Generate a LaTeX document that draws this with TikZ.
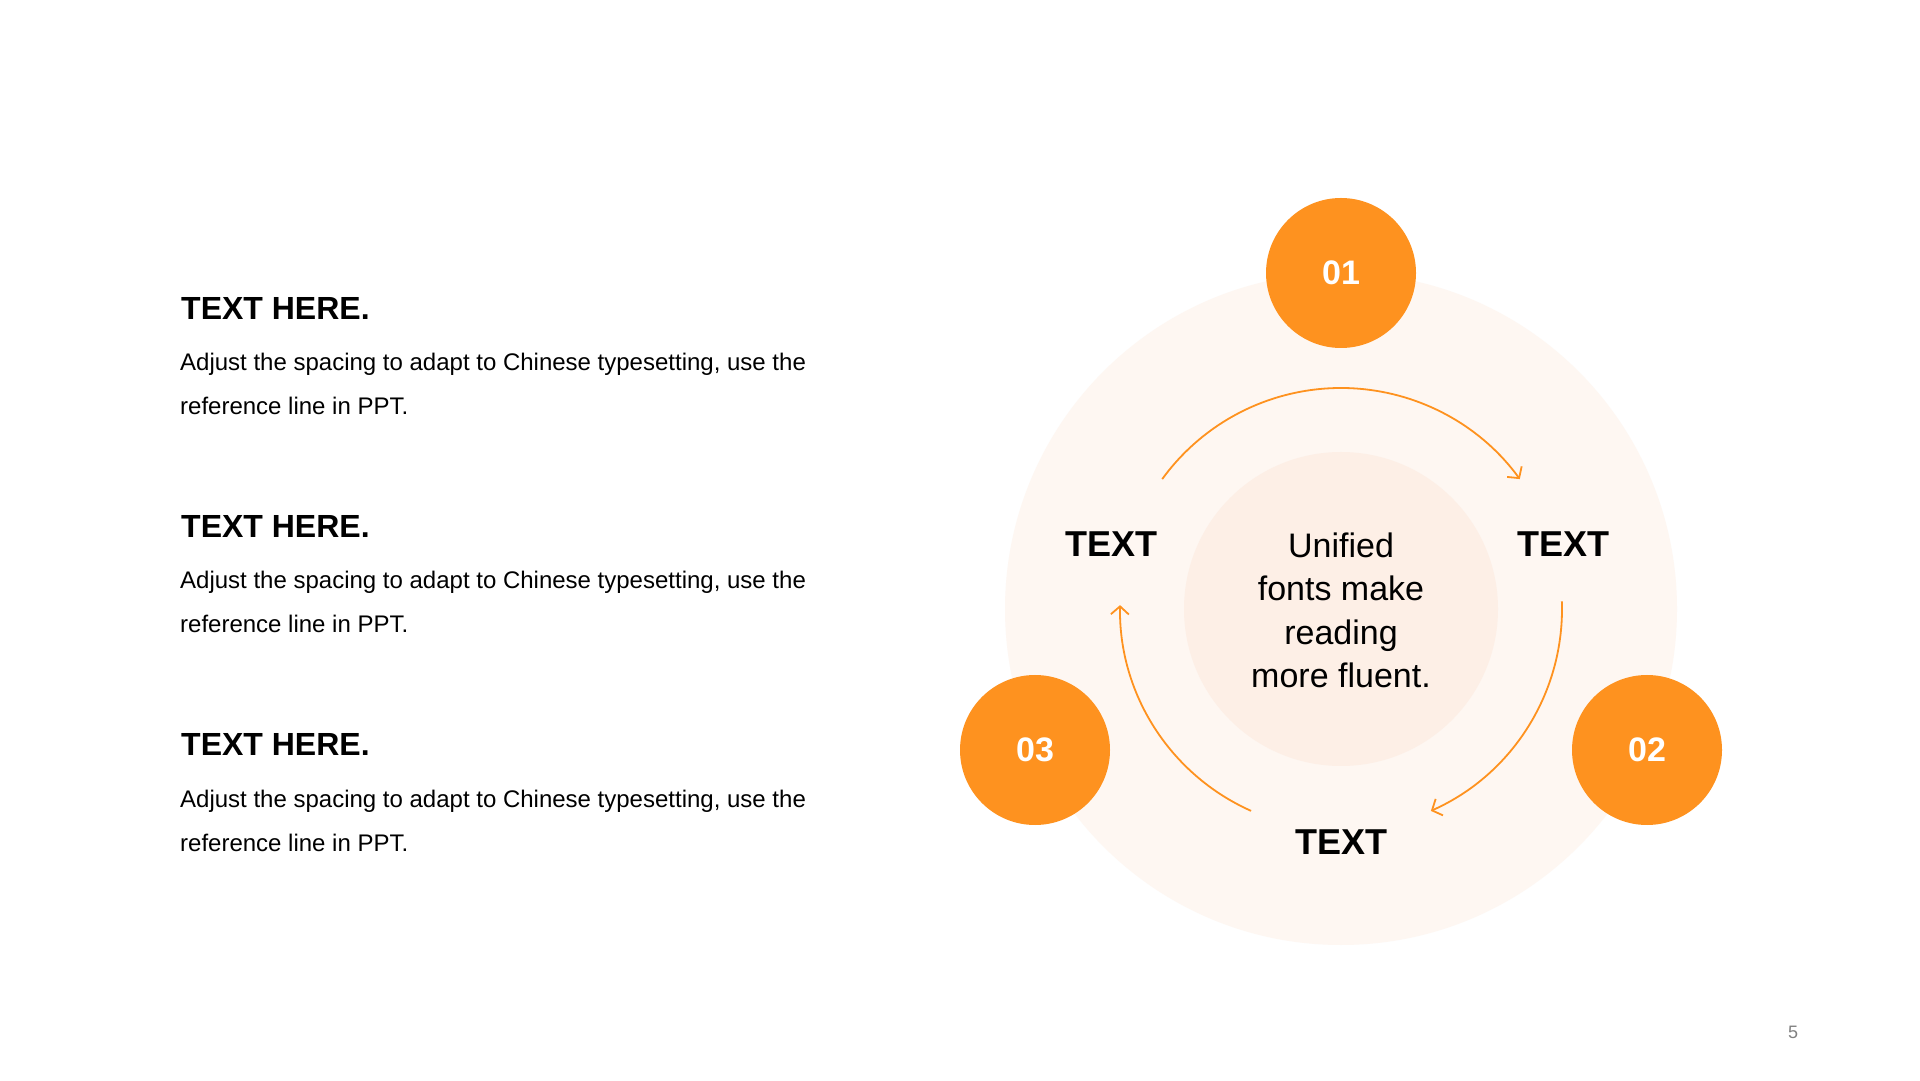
\documentclass[tikz,border=0pt]{standalone}
\usepackage{fontspec}
\setmainfont{Liberation Sans}
\usetikzlibrary{arrows.meta}
\definecolor{orng}{HTML}{FE921F}
\definecolor{bigc}{HTML}{FEF7F2}
\definecolor{innc}{HTML}{FDEFE6}
\definecolor{pgnum}{HTML}{808080}
\begin{document}
\begin{tikzpicture}[x=1pt,y=1pt,
  num/.style={circle,fill=orng,minimum size=150pt,inner sep=0pt,text=white,font=\fontsize{34}{40}\selectfont\bfseries},
  lbl/.style={anchor=base,inner sep=0pt,font=\fontsize{36}{42}\selectfont\bfseries},
  head/.style={anchor=base west,inner sep=0pt,font=\fontsize{32}{36}\selectfont\bfseries},
  body/.style={anchor=base west,inner sep=0pt,align=left,font=\fontsize{24}{44}\selectfont},
  cyc/.style={draw=orng,line width=1.8pt,-{Straight Barb[length=8pt,width=18pt]}}
]
\path[use as bounding box] (0,0) rectangle (1920,1080);
\fill[white] (0,0) rectangle (1920,1080);
\coordinate (c) at (1341,471);
\fill[bigc] (c) circle[radius=336];
\fill[innc] (c) circle[radius=157];
% cycle arrows
\draw[cyc] ([shift={(144:221)}]c) arc[start angle=144,end angle=36,radius=221];
\draw[cyc] ([shift={(2:221)}]c) arc[start angle=2,end angle=-66,radius=221];
\draw[cyc] ([shift={(246:221)}]c) arc[start angle=246,end angle=179,radius=221];
% numbered circles
\node[num] (n1) at (1341,807) {01};
\node[num] (n2) at (1647,330) {02};
\node[num] (n3) at (1035,330) {03};
% labels
\node[lbl] (tl) at (1111,523) {TEXT};
\node[lbl] (tr) at (1563,523) {TEXT};
\node[lbl] (tb) at (1341,226) {TEXT};
\node[align=center,inner sep=0pt,font=\fontsize{34}{43.5}\selectfont] (ctr) at (1341,469.5) {Unified\\fonts make\\reading\\more fluent.};
% left column
\node[head] (h1) at (181,760) {TEXT HERE.};
\node[body] (b1) at (180,665) {Adjust the spacing to adapt to Chinese typesetting, use the\\reference line in PPT.};
\node[head] (h2) at (181,542) {TEXT HERE.};
\node[body] (b2) at (180,447) {Adjust the spacing to adapt to Chinese typesetting, use the\\reference line in PPT.};
\node[head] (h3) at (181,324) {TEXT HERE.};
\node[body] (b3) at (180,229) {Adjust the spacing to adapt to Chinese typesetting, use the\\reference line in PPT.};
\node[anchor=base,inner sep=0pt,text=pgnum,font=\fontsize{18}{22}\selectfont] (pg) at (1793,42) {5};
\end{tikzpicture}
\end{document}
